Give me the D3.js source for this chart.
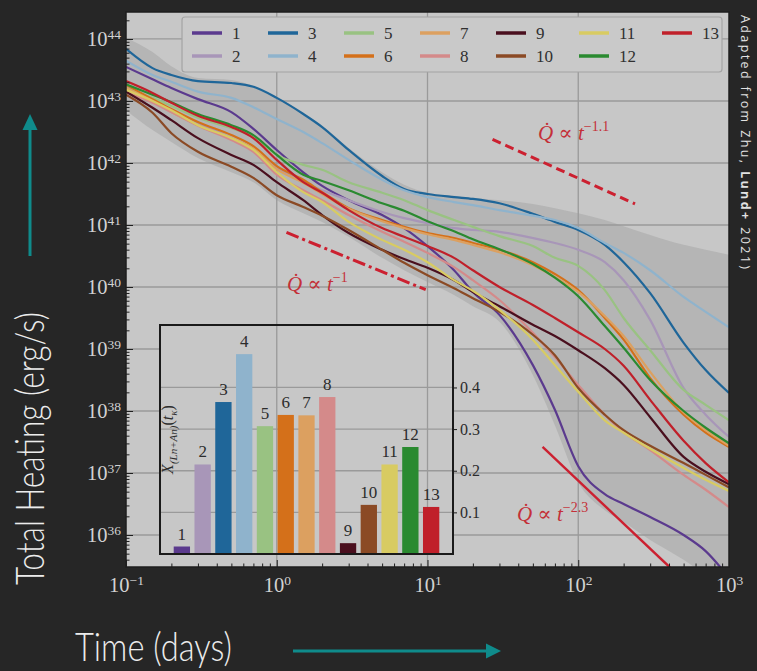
<!DOCTYPE html>
<html>
<head>
<meta charset="utf-8">
<script src="https://cdn.jsdelivr.net/npm/d3@7"></script>
<style>
  html, body { margin: 0; padding: 0; background: #262626; }
  svg { display: block; }
</style>
</head>
<body>
<svg id="chart" width="757" height="671"></svg>
<script>
// ---- data -------------------------------------------------------------
// sample times (days)
const times = [0.1, 0.15, 0.2, 0.3, 0.5, 0.7, 1, 1.5, 2, 3, 5, 7, 10, 15, 20, 30, 50, 70, 100, 150, 200, 300, 500, 700, 1000];

const seriesNames = ["1", "2", "3", "4", "5", "6", "7", "8", "9", "10", "11", "12", "13"];
const seriesColors = ["#5b3a8e", "#a896b8", "#1f6699", "#8fb3cc", "#99c282", "#d4701a", "#dca060",
                      "#d48a8a", "#4a0f1e", "#8b4a25", "#d8cb62", "#2a8a30", "#c0202a"];

// log10 of total heating (erg/s) for each model, at the sample times
const heat1  = [43.55, 43.35, 43.21, 43.03, 42.82, 42.55, 42.21, 41.85, 41.63, 41.40, 41.16, 40.95, 40.66, 40.27, 39.92, 39.55, 38.74, 38.02, 37.11, 36.66, 36.50, 36.29, 36.00, 35.74, 35.31];
const heat2  = [43.24, 43.02, 42.85, 42.65, 42.40, 42.21, 41.92, 41.69, 41.56, 41.40, 41.21, 41.11, 41.03, 40.95, 40.92, 40.89, 40.79, 40.71, 40.60, 40.40, 40.11, 39.47, 38.37, 37.94, 37.58];
const heat3  = [43.84, 43.53, 43.42, 43.32, 43.29, 43.23, 43.05, 42.79, 42.58, 42.21, 41.79, 41.58, 41.50, 41.45, 41.42, 41.35, 41.18, 41.05, 40.92, 40.68, 40.40, 39.90, 39.10, 38.66, 38.29];
const heat4  = [43.65, 43.42, 43.31, 43.15, 43.05, 42.90, 42.71, 42.50, 42.32, 42.05, 41.73, 41.56, 41.45, 41.37, 41.32, 41.24, 41.15, 41.08, 40.95, 40.71, 40.55, 40.27, 39.84, 39.60, 39.35];
const heat5  = [43.21, 43.05, 42.92, 42.73, 42.56, 42.42, 42.13, 41.97, 41.89, 41.69, 41.52, 41.40, 41.24, 41.08, 40.97, 40.82, 40.66, 40.47, 40.34, 39.95, 39.50, 38.98, 38.34, 38.10, 37.85];
const heat6  = [43.26, 43.03, 42.87, 42.66, 42.45, 42.27, 41.95, 41.73, 41.53, 41.27, 41.08, 40.97, 40.87, 40.79, 40.71, 40.60, 40.40, 40.21, 39.95, 39.50, 39.15, 38.53, 37.94, 37.65, 37.42];
const heat7  = [43.21, 43.00, 42.82, 42.61, 42.40, 42.23, 41.90, 41.68, 41.50, 41.26, 41.06, 40.95, 40.85, 40.76, 40.68, 40.56, 40.35, 40.16, 39.92, 39.53, 39.21, 38.63, 37.98, 37.69, 37.44];
const heat8  = [43.15, 42.97, 42.82, 42.60, 42.37, 42.18, 41.81, 41.56, 41.40, 41.16, 40.89, 40.73, 40.55, 40.32, 40.11, 39.79, 39.26, 38.87, 38.42, 37.94, 37.66, 37.37, 36.97, 36.73, 36.45];
const heat9  = [43.15, 42.89, 42.69, 42.40, 42.13, 41.97, 41.69, 41.40, 41.16, 40.87, 40.60, 40.45, 40.31, 40.11, 39.92, 39.69, 39.39, 39.21, 38.98, 38.69, 38.42, 37.90, 37.26, 37.02, 36.82];
const heat10 = [43.10, 42.81, 42.48, 42.18, 41.94, 41.76, 41.48, 41.29, 41.15, 40.92, 40.60, 40.39, 40.19, 39.98, 39.82, 39.60, 39.23, 38.90, 38.37, 37.94, 37.69, 37.44, 37.16, 36.97, 36.77];
const heat11 = [43.18, 43.00, 42.85, 42.61, 42.40, 42.21, 41.85, 41.53, 41.37, 41.05, 40.76, 40.60, 40.40, 40.11, 39.94, 39.63, 39.15, 38.74, 38.31, 37.85, 37.65, 37.39, 37.08, 36.89, 36.71];
const heat12 = [43.27, 43.10, 42.98, 42.79, 42.61, 42.45, 42.13, 41.81, 41.71, 41.56, 41.35, 41.23, 41.06, 40.90, 40.77, 40.61, 40.37, 40.15, 39.85, 39.37, 39.02, 38.50, 38.00, 37.73, 37.48];
const heat13 = [43.32, 43.13, 42.97, 42.76, 42.58, 42.40, 42.05, 41.69, 41.52, 41.24, 40.95, 40.81, 40.66, 40.47, 40.27, 40.00, 39.71, 39.50, 39.27, 39.00, 38.73, 38.18, 37.52, 37.16, 36.85];
const heatSeries = [heat1, heat2, heat3, heat4, heat5, heat6, heat7, heat8, heat9, heat10, heat11, heat12, heat13];

// spread of the models (log10 erg/s)
const bandUpper = [44.02, 43.79, 43.56, 43.37, 43.34, 43.24, 43.06, 42.81, 42.60, 42.24, 41.85, 41.65, 41.52, 41.47, 41.44, 41.40, 41.34, 41.27, 41.19, 41.08, 40.98, 40.84, 40.68, 40.60, 40.52];
const bandLower = [42.85, 42.53, 42.34, 42.08, 41.85, 41.69, 41.40, 41.19, 41.05, 40.81, 40.47, 40.27, 40.08, 39.87, 39.69, 39.44, 38.58, 37.77, 36.85, 36.40, 36.21, 35.92, 35.60, 35.35, 35.11];

// reference power laws: exponent, start / end time (days), log10 heating at start
const lawExponents = [-1.1, -1, -2.3];
const lawLabels = ["\u22121.1", "\u22121", "\u22122.3"];
const lawStart = [27, 1.16, 58];
const lawEnd = [238, 9.73, 406];
const lawStartLog = [42.38, 40.88, 37.42];

// inset: lanthanide + actinide mass fraction at t_kappa
const barValues = [0.018, 0.215, 0.365, 0.48, 0.307, 0.334, 0.333, 0.377, 0.026, 0.118, 0.215, 0.257, 0.113];
const insetTicks = [0.1, 0.2, 0.3, 0.4];

const xTickValues = [0.1, 1, 10, 100, 1000];
const yTickExponents = [36, 37, 38, 39, 40, 41, 42, 43, 44];

// ---- layout -----------------------------------------------------------
const svg = d3.select("#chart");
const P = { left: 126, right: 729, top: 12, bottom: 567 };
const BG = "#c7c7c7";
const GRID = "#9a9a9a";
const TEXT_LIGHT = "#d2d2d2";
const SERIF = "'Liberation Serif', 'DejaVu Serif', serif";
const THIN = "'Lato', 'Open Sans', sans-serif";

const x = d3.scaleLog().domain([0.1, 1000]).range([P.left, P.right]);
const y = d3.scaleLog().domain([Math.pow(10, 35.484), Math.pow(10, 44.435)]).range([P.bottom, P.top]);
const yv = v => y(Math.pow(10, v));

svg.append("rect").attr("width", 757).attr("height", 671).attr("fill", "#262626");

svg.append("defs").append("clipPath").attr("id", "plotClip")
  .append("rect").attr("x", P.left).attr("y", P.top)
  .attr("width", P.right - P.left).attr("height", P.bottom - P.top);

svg.append("rect").attr("x", P.left).attr("y", P.top)
  .attr("width", P.right - P.left).attr("height", P.bottom - P.top).attr("fill", BG);

const plot = svg.append("g").attr("clip-path", "url(#plotClip)");

// spread band
const band = d3.area()
  .x((d, i) => x(times[i]))
  .y0((d, i) => yv(bandLower[i]))
  .y1((d, i) => yv(bandUpper[i]))
  .curve(d3.curveMonotoneX);
plot.append("path").datum(times).attr("d", band).attr("fill", "#a9a9a9").attr("opacity", 0.62);

// major grid
plot.append("g").selectAll("line").data([1, 10, 100]).join("line")
  .attr("x1", d => x(d)).attr("x2", d => x(d)).attr("y1", P.top).attr("y2", P.bottom)
  .attr("stroke", GRID).attr("stroke-width", 1.3);
plot.append("g").selectAll("line").data(yTickExponents).join("line")
  .attr("x1", P.left).attr("x2", P.right).attr("y1", d => yv(d)).attr("y2", d => yv(d))
  .attr("stroke", GRID).attr("stroke-width", 1.3);

// model curves
const line = d3.line()
  .x((d, i) => x(times[i]))
  .y(d => yv(d))
  .curve(d3.curveMonotoneX);
plot.append("g").selectAll("path").data(heatSeries).join("path")
  .attr("d", line)
  .attr("fill", "none")
  .attr("stroke", (d, i) => seriesColors[i])
  .attr("stroke-width", 2.2)
  .attr("stroke-linejoin", "round");

// power-law guides
const lawDash = ["9,5", "13,4,3,4", null];
const lawWidth = [3, 3, 2.4];
lawExponents.forEach((k, i) => {
  const ts = [lawStart[i], lawEnd[i]];
  const pts = ts.map(t => [x(t), yv(lawStartLog[i] + k * Math.log10(t / lawStart[i]))]);
  plot.append("path").attr("d", d3.line()(pts))
    .attr("stroke", "#cc2030").attr("stroke-width", lawWidth[i]).attr("fill", "none")
    .attr("stroke-dasharray", lawDash[i]);
});

// power-law labels
const lawLabelPos = [[538, 140], [287, 291], [517, 521]];
lawExponents.forEach((k, i) => {
  const t = svg.append("text").attr("x", lawLabelPos[i][0]).attr("y", lawLabelPos[i][1])
    .attr("font-family", SERIF).attr("font-size", 21).attr("fill", "#c43038");
  t.append("tspan").attr("font-style", "italic").text("Q\u0307");
  t.append("tspan").text(" \u221D ");
  t.append("tspan").attr("font-style", "italic").text("t");
  t.append("tspan").attr("font-size", 14).attr("dy", -9).text(lawLabels[i]);
});

// frame
svg.append("rect").attr("x", P.left).attr("y", P.top)
  .attr("width", P.right - P.left).attr("height", P.bottom - P.top)
  .attr("fill", "none").attr("stroke", "#1e1e1e").attr("stroke-width", 1.5);

// ---- axes -------------------------------------------------------------
const supLabel = (sel, expOf, dyExp) => {
  sel.each(function (d) {
    const t = d3.select(this);
    t.text(null);
    t.append("tspan").text("10");
    t.append("tspan").attr("font-size", 13.5).attr("dy", dyExp).text(expOf(d));
  });
};

const minorX = [];
[0.1, 1, 10, 100].forEach(b => { for (let m = 2; m <= 9; m++) minorX.push(b * m); });
const minorY = [];
for (let e = 35; e <= 44; e++) for (let m = 2; m <= 9; m++) minorY.push(Math.pow(10, e) * m);

const xAxis = svg.append("g").attr("transform", `translate(0,${P.bottom})`)
  .call(d3.axisBottom(x).tickValues(xTickValues).tickSizeInner(-7).tickSizeOuter(0).tickPadding(10)
    .tickFormat(d => d));
xAxis.select(".domain").remove();
xAxis.selectAll(".tick line").attr("stroke", "#1e1e1e");
xAxis.selectAll("text").attr("font-family", SERIF).attr("font-size", 20.5).attr("fill", TEXT_LIGHT)
  .call(supLabel, d => String(Math.round(Math.log10(d))).replace("-", "\u2212"), "-0.5em");

svg.append("g").attr("transform", `translate(0,${P.bottom})`)
  .call(d3.axisBottom(x).tickValues(minorX).tickSizeInner(-3.5).tickSizeOuter(0).tickFormat(""))
  .call(g => g.select(".domain").remove())
  .selectAll("line").attr("stroke", "#1e1e1e");

const yAxis = svg.append("g").attr("transform", `translate(${P.left},0)`)
  .call(d3.axisLeft(y).tickValues(yTickExponents.map(e => Math.pow(10, e)))
    .tickSizeInner(-7).tickSizeOuter(0).tickPadding(5).tickFormat(d => d));
yAxis.select(".domain").remove();
yAxis.selectAll(".tick line").attr("stroke", "#1e1e1e");
yAxis.selectAll("text").attr("font-family", SERIF).attr("font-size", 20.5).attr("fill", TEXT_LIGHT)
  .call(supLabel, d => String(Math.round(Math.log10(d))), "-0.5em");

svg.append("g").attr("transform", `translate(${P.left},0)`)
  .call(d3.axisLeft(y).tickValues(minorY.filter(v => v > y.domain()[0] && v < y.domain()[1]))
    .tickSizeInner(-3.5).tickSizeOuter(0).tickFormat(""))
  .call(g => g.select(".domain").remove())
  .selectAll("line").attr("stroke", "#1e1e1e");

// ---- legend -----------------------------------------------------------
const legend = svg.append("g");
legend.append("rect").attr("x", 182).attr("y", 17).attr("width", 540).attr("height", 55).attr("rx", 3)
  .attr("fill", "#c9c9c9").attr("stroke", "#a4a4a4").attr("stroke-width", 1.2);
let colX = 192;
for (let c = 0; c < Math.ceil(seriesNames.length / 2); c++) {
  const names = seriesNames.slice(c * 2, c * 2 + 2);
  names.forEach((name, r) => {
    const i = c * 2 + r;
    const ly = 33 + r * 23;
    legend.append("line").attr("x1", colX).attr("x2", colX + 30).attr("y1", ly).attr("y2", ly)
      .attr("stroke", seriesColors[i]).attr("stroke-width", 3.5);
    legend.append("text").attr("x", colX + 40).attr("y", ly + 6).text(name)
      .attr("font-family", SERIF).attr("font-size", 17).attr("fill", "#303030");
  });
  colX += 76 + (d3.max(names, s => s.length) - 1) * 7;
}

// ---- inset bar chart --------------------------------------------------
const I = { left: 160, right: 453, top: 325, bottom: 554 };
const bx = d3.scaleBand().domain(seriesNames).range([I.left, I.right]).paddingInner(0.215).paddingOuter(0.66);
const by = d3.scaleLinear().domain([0, 0.55]).range([I.bottom, I.top]);

const inset = svg.append("g");
inset.append("rect").attr("x", I.left).attr("y", I.top)
  .attr("width", I.right - I.left).attr("height", I.bottom - I.top).attr("fill", BG);
inset.append("g").selectAll("line").data(insetTicks).join("line")
  .attr("x1", I.left).attr("x2", I.right).attr("y1", d => by(d)).attr("y2", d => by(d))
  .attr("stroke", GRID).attr("stroke-width", 1.3);
inset.append("g").selectAll("line").data([1, 10]).join("line")
  .attr("x1", d => x(d)).attr("x2", d => x(d)).attr("y1", I.top).attr("y2", I.bottom)
  .attr("stroke", GRID).attr("stroke-width", 1.3);

inset.append("g").selectAll("rect").data(barValues).join("rect")
  .attr("x", (d, i) => bx(seriesNames[i]))
  .attr("width", bx.bandwidth())
  .attr("y", d => by(d))
  .attr("height", d => by(0) - by(d))
  .attr("fill", (d, i) => seriesColors[i]);

inset.append("g").selectAll("text").data(barValues).join("text")
  .attr("x", (d, i) => bx(seriesNames[i]) + bx.bandwidth() / 2)
  .attr("y", d => by(d) - 7)
  .attr("text-anchor", "middle")
  .attr("font-family", SERIF).attr("font-size", 17).attr("fill", "#2c2c2c")
  .text((d, i) => seriesNames[i]);

inset.append("rect").attr("x", I.left).attr("y", I.top)
  .attr("width", I.right - I.left).attr("height", I.bottom - I.top)
  .attr("fill", "none").attr("stroke", "#1a1a1a").attr("stroke-width", 2);

const insetAxis = inset.append("g").attr("transform", `translate(${I.right},0)`)
  .call(d3.axisRight(by).tickValues(insetTicks).tickSize(4).tickPadding(3).tickFormat(d3.format(".1f")));
insetAxis.select(".domain").remove();
insetAxis.selectAll("line").attr("stroke", "#1a1a1a");
insetAxis.selectAll("text").attr("font-family", SERIF).attr("font-size", 16).attr("fill", "#2c2c2c");

const insetLabel = inset.append("text")
  .attr("transform", `translate(${I.left + 13},${(I.top + I.bottom) / 2}) rotate(-90)`)
  .attr("text-anchor", "middle").attr("font-family", SERIF).attr("font-size", 16).attr("fill", "#2c2c2c");
insetLabel.append("tspan").attr("font-style", "italic").text("X");
insetLabel.append("tspan").attr("font-size", 11).attr("dy", 4).attr("font-style", "italic").text("(Ln+An)");
insetLabel.append("tspan").attr("dy", -4).text("(");
insetLabel.append("tspan").attr("font-style", "italic").text("t");
insetLabel.append("tspan").attr("font-size", 11).attr("dy", 4).attr("font-style", "italic").text("\u03BA");
insetLabel.append("tspan").attr("dy", -4).text(")");

// ---- titles, arrows, credit ------------------------------------------
svg.append("text").attr("x", 75).attr("y", 661)
  .attr("font-family", THIN).attr("font-weight", 300).attr("font-size", 39).attr("fill", "#ececec")
  .attr("textLength", 157).attr("lengthAdjust", "spacingAndGlyphs").text("Time (days)");

svg.append("text").attr("transform", "translate(44,585) rotate(-90)")
  .attr("font-family", THIN).attr("font-weight", 300).attr("font-size", 39).attr("fill", "#ececec")
  .attr("textLength", 273).attr("lengthAdjust", "spacingAndGlyphs").text("Total Heating (erg/s)");

const TEAL = "#0f8b8b";
svg.append("line").attr("x1", 30).attr("x2", 30).attr("y1", 256).attr("y2", 128)
  .attr("stroke", TEAL).attr("stroke-width", 3);
svg.append("path").attr("d", "M30,114 L22.5,130 L37.5,130 Z").attr("fill", TEAL);
svg.append("line").attr("x1", 293).attr("x2", 488).attr("y1", 651).attr("y2", 651)
  .attr("stroke", TEAL).attr("stroke-width", 3);
svg.append("path").attr("d", "M501,651 L486,643.5 L486,658.5 Z").attr("fill", TEAL);

const credit = svg.append("text").attr("transform", "translate(741,15) rotate(90)")
  .attr("font-family", "'Open Sans', 'DejaVu Sans', sans-serif").attr("font-size", 12.5).attr("fill", "#e2e2e2")
  .attr("textLength", 254).attr("lengthAdjust", "spacing");
credit.append("tspan").text("Adapted from Zhu, ");
credit.append("tspan").attr("font-weight", 700).text("Lund+");
credit.append("tspan").text(" 2021)");
</script>
</body>
</html>
